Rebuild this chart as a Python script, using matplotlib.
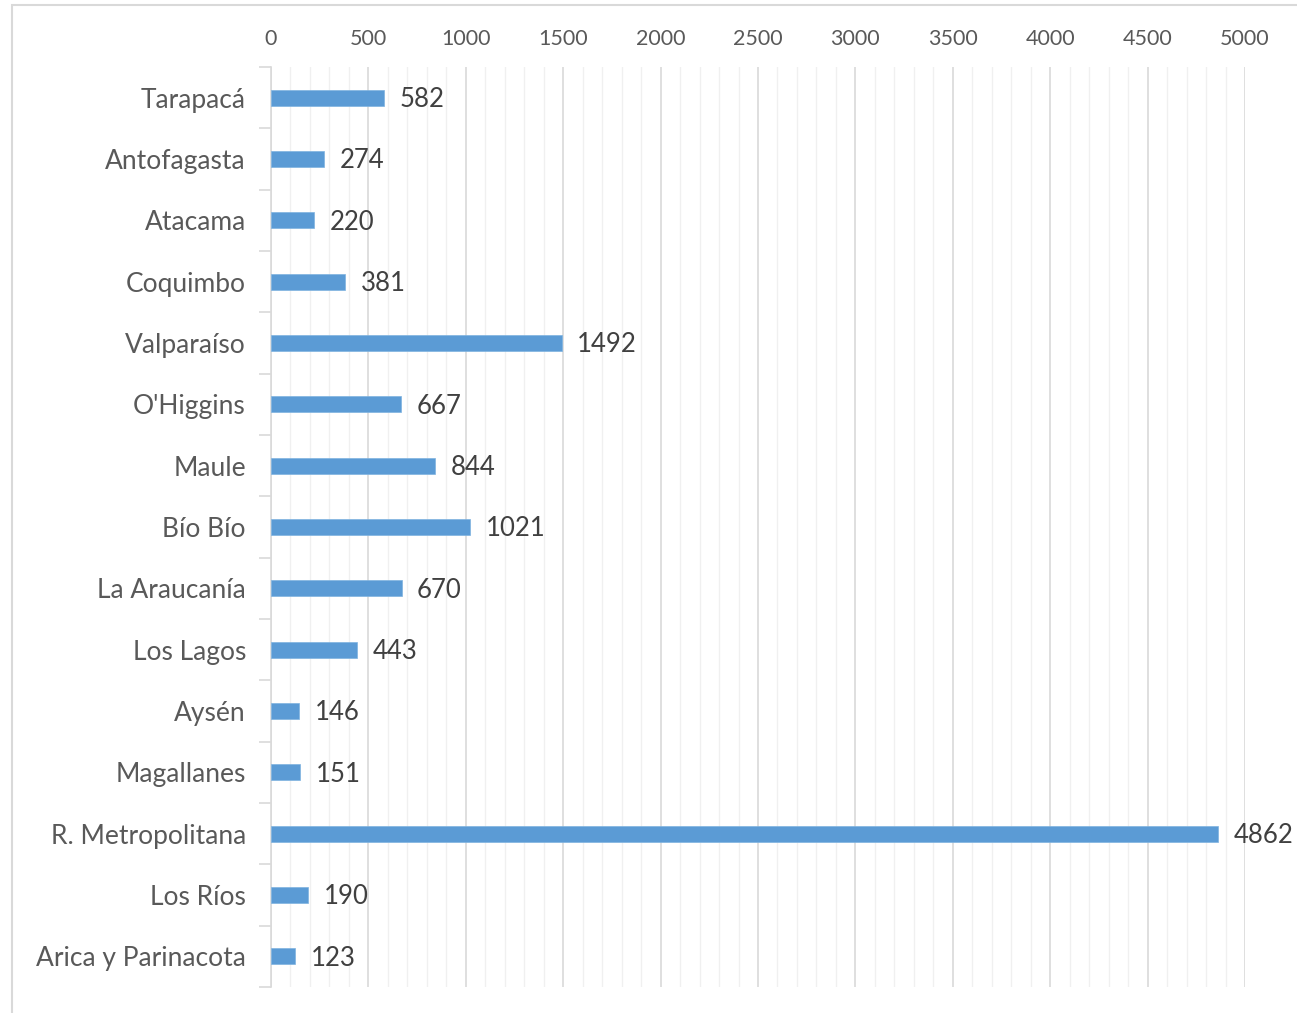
import matplotlib
matplotlib.use("Agg")
import matplotlib.pyplot as plt
from matplotlib.patches import Rectangle
from matplotlib.ticker import MultipleLocator

regions = ["Tarapacá", "Antofagasta", "Atacama", "Coquimbo", "Valparaíso", "O'Higgins",
           "Maule", "Bío Bío", "La Araucanía", "Los Lagos", "Aysén", "Magallanes",
           "R. Metropolitana", "Los Ríos", "Arica y Parinacota"]
values = [582, 274, 220, 381, 1492, 667, 844, 1021, 670, 443, 146, 151, 4862, 190, 123]
xticks = [0, 500, 1000, 1500, 2000, 2500, 3000, 3500, 4000, 4500, 5000]

plt.rcParams['font.family'] = ['Lato', 'DejaVu Sans']
fig = plt.figure(figsize=(12.97, 10.13), dpi=100)
fig.patches.append(Rectangle((12/1297, -0.1), 1.2, 1 - 5/1013 + 0.1, transform=fig.transFigure,
                             fill=False, edgecolor='#d9d9d9', linewidth=1.5))
ax = fig.add_axes([271/1297, 1 - 987/1013, (1245 - 271)/1297, (987 - 67)/1013])

n = len(regions)
ypos = list(range(n))
ax.barh(ypos, values, height=0.26, color='#5b9bd5', edgecolor='#7fb3e0', linewidth=0.5, zorder=3)
for y, v in zip(ypos, values):
    ax.text(v + 80, y + 0.03, str(v), va='center', ha='left', fontsize=18.5, color='#404040', zorder=4)

ax.set_ylim(n - 0.5, -0.5)
ax.set_xlim(0, 5000)
ax.set_yticks(ypos)
ax.set_yticklabels(regions, fontsize=19, color='#595959')
ax.set_yticks([i - 0.5 for i in range(n + 1)], minor=True)
ax.tick_params(axis='y', which='major', length=0, pad=18)
ax.tick_params(axis='y', which='minor', length=9, color='#d9d9d9', width=1.2)

ax.xaxis.tick_top()
ax.set_xticks(xticks)
ax.set_xticklabels([str(t) for t in xticks], fontsize=15.5, color='#595959')
ax.xaxis.set_minor_locator(MultipleLocator(100))
ax.tick_params(axis='x', which='both', length=0, pad=13)
ax.grid(axis='x', which='major', color='#d9d9d9', linewidth=1.2, zorder=0)
ax.grid(axis='x', which='minor', color='#f0f0f0', linewidth=1.0, zorder=0)

for s in ['top', 'right', 'bottom']:
    ax.spines[s].set_visible(False)
ax.spines['left'].set_color('#d9d9d9')
ax.spines['left'].set_linewidth(1.2)

fig.savefig('out.png', dpi=100)
